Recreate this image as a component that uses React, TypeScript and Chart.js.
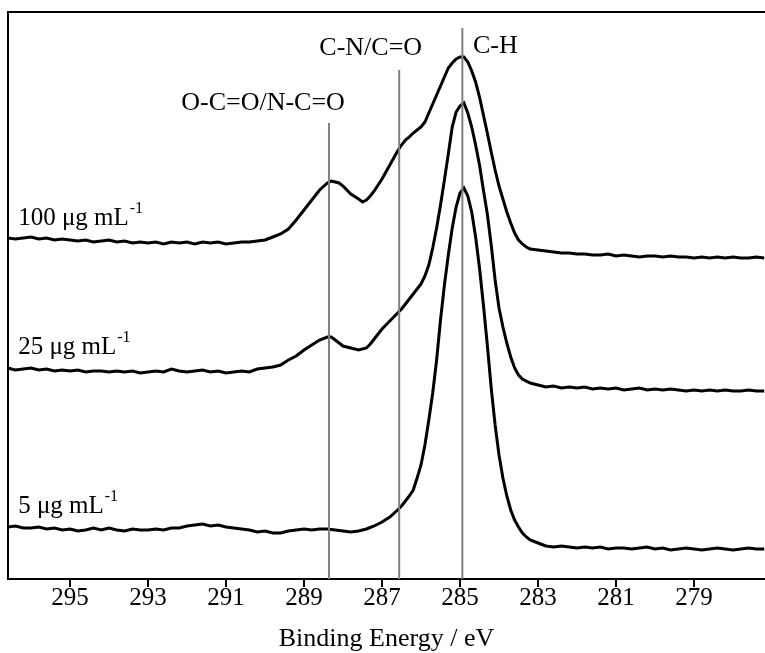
import React, { useEffect, useRef } from "react";
import { Chart, registerables } from "chart.js";

Chart.register(...registerables);

// Binding energy (eV) / intensity (a.u.) pairs
const S100: [number, number][] = [
  [296.6, 341], [296.4, 340], [296.2, 341], [296.0, 342], [295.8, 340], [295.6, 341], [295.4, 339], [295.2, 340],
  [295.0, 339], [294.8, 338], [294.6, 339], [294.4, 337], [294.2, 338], [294.0, 339], [293.8, 337], [293.6, 338],
  [293.4, 336], [293.2, 337], [293.0, 336], [292.8, 337], [292.6, 335], [292.4, 337], [292.2, 336], [292.0, 337],
  [291.8, 335], [291.6, 337], [291.4, 336], [291.2, 337], [291.0, 335], [290.8, 336], [290.6, 337], [290.4, 337],
  [290.2, 338], [290.0, 339], [289.8, 342], [289.6, 345], [289.4, 350], [289.2, 359], [289.0, 369], [288.8, 379],
  [288.6, 389], [288.4, 396], [288.3, 398], [288.2, 397], [288.1, 396], [288.0, 393], [287.8, 385], [287.6, 380],
  [287.5, 377], [287.4, 379], [287.3, 383], [287.2, 388], [287.1, 394], [287.0, 400], [286.9, 407], [286.8, 414],
  [286.7, 421], [286.6, 428], [286.5, 434], [286.4, 439], [286.3, 442], [286.2, 446], [286.1, 449], [286.0, 452],
  [285.9, 457], [285.8, 466], [285.7, 475], [285.6, 484], [285.5, 493], [285.4, 502], [285.3, 511], [285.2, 516],
  [285.1, 520], [285.0, 522], [284.9, 522], [284.8, 517], [284.7, 508], [284.6, 497], [284.5, 482], [284.4, 464],
  [284.3, 446], [284.2, 427], [284.1, 409], [284.0, 393], [283.9, 380], [283.8, 367], [283.7, 356], [283.6, 346],
  [283.5, 339], [283.4, 335], [283.3, 332], [283.2, 330], [283.0, 329], [282.8, 328], [282.6, 327], [282.4, 326],
  [282.2, 326], [282.0, 325], [281.8, 325], [281.6, 324], [281.4, 324], [281.2, 325], [281.0, 323], [280.8, 324],
  [280.6, 323], [280.4, 322], [280.2, 323], [280.0, 323], [279.8, 322], [279.6, 323], [279.4, 322], [279.2, 322],
  [279.0, 321], [278.8, 322], [278.6, 321], [278.4, 322], [278.2, 321], [278.0, 322], [277.8, 321], [277.6, 321],
  [277.4, 322], [277.2, 321],
];

const S25: [number, number][] = [
  [296.6, 211], [296.4, 209], [296.2, 210], [296.0, 211], [295.8, 209], [295.6, 210], [295.4, 208], [295.2, 209],
  [295.0, 208], [294.8, 209], [294.6, 207], [294.4, 208], [294.2, 208], [294.0, 207], [293.8, 208], [293.6, 207],
  [293.4, 208], [293.2, 206], [293.0, 207], [292.8, 208], [292.6, 207], [292.4, 210], [292.2, 208], [292.0, 207],
  [291.8, 208], [291.6, 209], [291.4, 207], [291.2, 208], [291.0, 206], [290.8, 207], [290.6, 208], [290.4, 207],
  [290.2, 210], [290.0, 211], [289.8, 212], [289.6, 214], [289.4, 219], [289.2, 223], [289.0, 229], [288.8, 234],
  [288.6, 239], [288.4, 242], [288.3, 242], [288.2, 239], [288.0, 233], [287.8, 231], [287.6, 229], [287.4, 231],
  [287.3, 235], [287.2, 240], [287.1, 245], [287.0, 250], [286.9, 254], [286.8, 258], [286.7, 262], [286.6, 266],
  [286.5, 270], [286.4, 275], [286.2, 285], [286.0, 295], [285.9, 303], [285.8, 314], [285.7, 331], [285.6, 351],
  [285.5, 374], [285.4, 399], [285.3, 425], [285.2, 452], [285.1, 467], [285.0, 473], [284.9, 476], [284.8, 466],
  [284.7, 452], [284.6, 434], [284.5, 414], [284.4, 389], [284.3, 365], [284.2, 334], [284.1, 299], [284.0, 271],
  [283.9, 252], [283.8, 236], [283.7, 222], [283.6, 211], [283.5, 204], [283.4, 200], [283.2, 196], [283.0, 194],
  [282.8, 192], [282.6, 193], [282.4, 191], [282.2, 192], [282.0, 191], [281.8, 192], [281.6, 190], [281.4, 191],
  [281.2, 190], [281.0, 191], [280.8, 189], [280.6, 190], [280.4, 191], [280.2, 189], [280.0, 190], [279.8, 189],
  [279.6, 190], [279.4, 189], [279.2, 188], [279.0, 189], [278.8, 188], [278.6, 189], [278.4, 188], [278.2, 189],
  [278.0, 188], [277.8, 188], [277.6, 189], [277.4, 188], [277.2, 188],
];

const S5: [number, number][] = [
  [296.6, 52], [296.4, 53], [296.2, 51], [296.0, 51], [295.8, 52], [295.6, 50], [295.4, 51], [295.2, 49],
  [295.0, 50], [294.8, 48], [294.6, 49], [294.4, 51], [294.2, 49], [294.0, 51], [293.8, 49], [293.6, 48],
  [293.4, 50], [293.2, 49], [293.0, 49], [292.8, 50], [292.6, 49], [292.4, 51], [292.2, 51], [292.0, 53],
  [291.8, 54], [291.6, 55], [291.4, 53], [291.2, 54], [291.0, 52], [290.8, 51], [290.6, 50], [290.4, 49],
  [290.2, 47], [290.0, 48], [289.8, 46], [289.6, 46], [289.4, 48], [289.2, 49], [289.0, 50], [288.8, 49],
  [288.6, 50], [288.4, 50], [288.2, 49], [288.0, 48], [287.8, 47], [287.6, 48], [287.4, 50], [287.2, 53],
  [287.0, 57], [286.8, 62], [286.6, 69], [286.5, 73], [286.4, 78], [286.3, 83], [286.2, 89], [286.1, 101],
  [286.0, 114], [285.9, 134], [285.8, 159], [285.7, 186], [285.6, 219], [285.5, 259], [285.4, 294], [285.3, 324],
  [285.2, 351], [285.1, 372], [285.0, 386], [284.9, 391], [284.8, 383], [284.7, 367], [284.6, 342], [284.5, 311],
  [284.4, 274], [284.3, 234], [284.2, 191], [284.1, 154], [284.0, 124], [283.9, 101], [283.8, 83], [283.7, 69],
  [283.6, 59], [283.5, 52], [283.4, 46], [283.3, 42], [283.2, 39], [283.0, 36], [282.8, 33], [282.6, 32],
  [282.4, 33], [282.2, 32], [282.0, 31], [281.8, 32], [281.6, 31], [281.4, 32], [281.2, 30], [281.0, 31],
  [280.8, 31], [280.6, 30], [280.4, 31], [280.2, 32], [280.0, 30], [279.8, 31], [279.6, 29], [279.4, 30],
  [279.2, 31], [279.0, 30], [278.8, 29], [278.6, 30], [278.4, 31], [278.2, 30], [278.0, 29], [277.8, 30],
  [277.6, 31], [277.4, 30], [277.2, 30],
];

const X_TICKS = [295, 293, 291, 289, 287, 285, 283, 281, 279];
const X_MIN = 277.18;
const X_MAX = 296.59;
const Y_MIN = 0;
const Y_MAX = 567;

// Component reference lines (eV) and the intensity at which each one ends
const REF_ENERGIES = [288.36, 286.56, 284.94];
const REF_TOPS = [456, 509, 551];
const REF_LABELS = ["O-C=O/N-C=O", "C-N/C=O", "C-H"];
const REF_LABEL_X = [290.05, 287.29, 284.67];
const REF_LABEL_Y = [469, 524, 526];

const SERIES_NAMES = ["100 μg mL", "25 μg mL", "5 μg mL"];
const SERIES_SUP = "-1";
const SERIES_LABEL_X = 296.33;
const SERIES_LABEL_Y = [354, 225, 66];

const FONT = '"Liberation Serif", "Times New Roman", serif';

const annotatePlugin = {
  id: "annotate",
  afterDatasetsDraw(chart: any) {
    const { ctx, chartArea: ca, scales } = chart;
    const x = scales.x;
    const y = scales.y;
    ctx.save();
    // frame: left and top
    ctx.strokeStyle = "#000";
    ctx.lineWidth = 2;
    ctx.beginPath();
    ctx.moveTo(ca.left, ca.bottom);
    ctx.lineTo(ca.left, ca.top);
    ctx.lineTo(ca.right + 2, ca.top);
    ctx.stroke();

    ctx.fillStyle = "#000";
    ctx.textBaseline = "alphabetic";
    ctx.font = `26px ${FONT}`;
    REF_LABELS.forEach((t, i) => {
      ctx.textAlign = i === 2 ? "left" : "center";
      ctx.fillText(t, x.getPixelForValue(REF_LABEL_X[i]), y.getPixelForValue(REF_LABEL_Y[i]));
    });

    SERIES_NAMES.forEach((t, i) => {
      const px = x.getPixelForValue(SERIES_LABEL_X);
      const py = y.getPixelForValue(SERIES_LABEL_Y[i]);
      ctx.textAlign = "left";
      ctx.font = `25px ${FONT}`;
      ctx.fillText(t, px, py);
      const w = ctx.measureText(t).width;
      ctx.font = `16px ${FONT}`;
      ctx.fillText(SERIES_SUP, px + w + 1, py - 12);
    });
    ctx.restore();
  },
};

export default function App() {
  const ref = useRef<HTMLCanvasElement | null>(null);

  useEffect(() => {
    if (!ref.current) return;
    const refSets = REF_ENERGIES.map((e, i) => ({
      data: [[e, Y_MIN], [e, REF_TOPS[i]]],
      borderColor: "#808080",
      borderWidth: 2,
      pointRadius: 0,
      fill: false,
    }));
    const curves = [S100, S25, S5].map((s) => ({
      data: s,
      borderColor: "#000",
      borderWidth: 3,
      pointRadius: 0,
      tension: 0,
      fill: false,
    }));
    const chart = new Chart(ref.current, {
      type: "line",
      data: { datasets: [...refSets, ...curves] as any },
      options: {
        animation: false,
        responsive: false,
        devicePixelRatio: 1,
        layout: { padding: { left: 8, top: 12, right: 0, bottom: 0 } },
        plugins: { legend: { display: false }, tooltip: { enabled: false } },
        events: [],
        scales: {
          x: {
            type: "linear",
            reverse: true,
            min: X_MIN,
            max: X_MAX,
            afterBuildTicks: (s: any) => {
              s.ticks = X_TICKS.map((v) => ({ value: v }));
            },
            afterFit: (s: any) => {
              s.height = 74;
            },
            grid: {
              drawOnChartArea: false,
              drawTicks: true,
              tickLength: 8,
              color: "#000",
              lineWidth: 2,
            },
            border: { display: true, color: "#000", width: 2 },
            ticks: {
              color: "#000",
              font: { family: FONT, size: 25 },
              padding: -4,
              maxRotation: 0,
              autoSkip: false,
              callback: (v: any) => String(v),
            },
            title: {
              display: true,
              text: "Binding Energy / eV",
              color: "#000",
              font: { family: FONT, size: 26, lineHeight: 1 },
              padding: { top: 0, bottom: 1 },
            },
          },
          y: { display: false, min: Y_MIN, max: Y_MAX },
        },
      },
      plugins: [annotatePlugin],
    });
    return () => chart.destroy();
  }, []);

  return (
    <div style={{ position: "fixed", left: 0, top: 0, width: 765, height: 653, background: "#fff" }}>
      <canvas ref={ref} width={765} height={653} style={{ display: "block" }} />
    </div>
  );
}
